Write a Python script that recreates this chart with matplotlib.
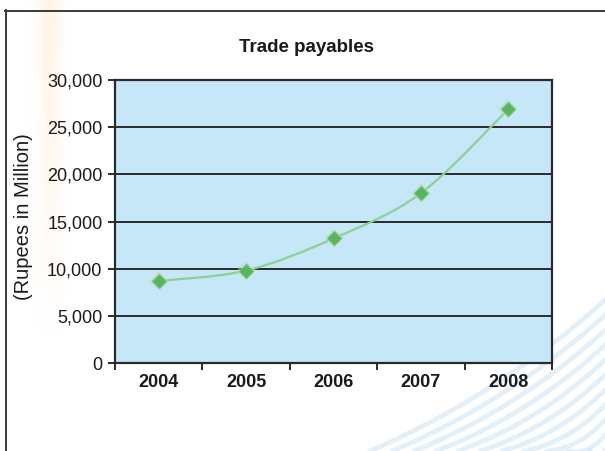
import numpy as np
import matplotlib
matplotlib.use("Agg")
import matplotlib.pyplot as plt
from matplotlib.path import Path
from matplotlib.patches import PathPatch
from matplotlib.lines import Line2D

plt.rcParams['font.family'] = ['Liberation Sans', 'DejaVu Sans']

# Data
years = ["2004", "2005", "2006", "2007", "2008"]
payables = [8700, 9800, 13200, 18000, 26900]
y_ticks = [0, 5000, 10000, 15000, 20000, 25000, 30000]
title = "Trade payables"
y_label = "(Rupees in Million)"

W, H = 605, 451
fig = plt.figure(figsize=(W / 100, H / 100), dpi=100)
fig.patch.set_facecolor("white")

# Faint orange vertical stripe at the left edge
bg = fig.add_axes([0, 0, 1, 1], zorder=0)
bg.set_xlim(0, W)
bg.set_ylim(H, 0)
bg.axis("off")
xs = np.linspace(0, 80, 160)
ys = np.linspace(0, 340, 340)
X, Y = np.meshgrid(xs, ys)
prof = np.exp(-((X - 50) / 12.0) ** 2)
fade = np.clip(1 - Y / 340, 0, 1) ** 0.7
alpha = 0.14 * prof * fade
img = np.zeros((len(ys), len(xs), 4))
img[..., 0] = 1.0
img[..., 1] = 0.70
img[..., 2] = 0.35
img[..., 3] = alpha
bg.imshow(img, extent=[0, 80, 340, 0], aspect="auto", interpolation="bilinear")

# Light blue decorative sweep at the lower right
t = np.linspace(0, 1, 100)
for k in range(11):
    x0 = 370 + k * 22
    x1 = 605
    y1 = 300 + k * 15
    xc, yc = x0 + 0.55 * (x1 - x0), 451 - 0.45 * (451 - y1) + 12
    bx = (1 - t) ** 2 * x0 + 2 * (1 - t) * t * xc + t ** 2 * x1
    by = (1 - t) ** 2 * 451 + 2 * (1 - t) * t * yc + t ** 2 * y1
    bg.plot(bx, by, color="#86BFE8", lw=3.5, alpha=0.22, solid_capstyle="round")

# Outer frame (left and top edges)
bg.add_line(Line2D([5.5, 5.5], [10, H], color="#3a3a3a", lw=1.4))
bg.add_line(Line2D([5, W], [10.5, 10.5], color="#3a3a3a", lw=1.4))

# Plot area
left, right, top, bottom = 115, 552, 80, 363
ax = fig.add_axes([left / W, (H - bottom) / H, (right - left) / W, (bottom - top) / H], zorder=2)
ax.set_facecolor("#C6E7F8")
x = np.arange(len(years))
ax.set_xlim(-0.5, len(years) - 0.5)
ax.set_ylim(0, 30000)

ax.set_yticks(y_ticks)
ax.set_yticklabels([f"{v:,}" for v in y_ticks], fontsize=13, color="#1a1a1a")
ax.yaxis.grid(True, color="#2a2a2a", lw=1.4)
ax.set_axisbelow(True)

# Category boundary ticks on the x axis, labels at category centres
ax.set_xticks(np.arange(-0.5, len(years) + 0.5, 1.0))
ax.set_xticklabels([])
ax.set_xticks(x, minor=True)
ax.set_xticklabels(years, minor=True, fontsize=13, fontweight="bold", color="#1a1a1a")
ax.tick_params(axis="x", which="minor", length=0, pad=8)
ax.tick_params(axis="x", which="major", length=5, width=1.4, color="#2a2a2a", direction="out")
ax.tick_params(axis="y", length=5, width=1.4, color="#2a2a2a", pad=4)

for s in ax.spines.values():
    s.set_color("#2a2a2a")
    s.set_linewidth(1.6)

# Smoothed line through the points (Catmull-Rom as cubic Bezier)
px = np.array(x, dtype=float)
py = np.array(payables, dtype=float)
verts = [(px[0], py[0])]
codes = [Path.MOVETO]
n = len(px)
for i in range(n - 1):
    p0 = (px[max(i - 1, 0)], py[max(i - 1, 0)])
    p1 = (px[i], py[i])
    p2 = (px[i + 1], py[i + 1])
    p3 = (px[min(i + 2, n - 1)], py[min(i + 2, n - 1)])
    c1 = (p1[0] + (p2[0] - p0[0]) / 6, p1[1] + (p2[1] - p0[1]) / 6)
    c2 = (p2[0] - (p3[0] - p1[0]) / 6, p2[1] - (p3[1] - p1[1]) / 6)
    verts += [c1, c2, p2]
    codes += [Path.CURVE4] * 3
ax.add_patch(PathPatch(Path(verts, codes), facecolor="none", edgecolor="#8FCF93", lw=1.6, zorder=3))
ax.plot(px, py, linestyle="none", marker="D", markersize=10, color="#B5E0B5", alpha=0.5,
        markeredgewidth=0, zorder=4)
ax.plot(px, py, linestyle="none", marker="D", markersize=7, color="#5BB35F",
        markeredgecolor="#70C070", markeredgewidth=0.8, zorder=5)

fig.text(306 / W, 1 - 48 / H, title, ha="center", va="center", fontsize=13.5,
         fontweight="bold", color="#1a1a1a")
fig.text(24 / W, 1 - 217 / H, y_label, ha="center", va="center", rotation=90,
         fontsize=14.5, color="#1a1a1a")

fig.savefig("out.png", dpi=100)
